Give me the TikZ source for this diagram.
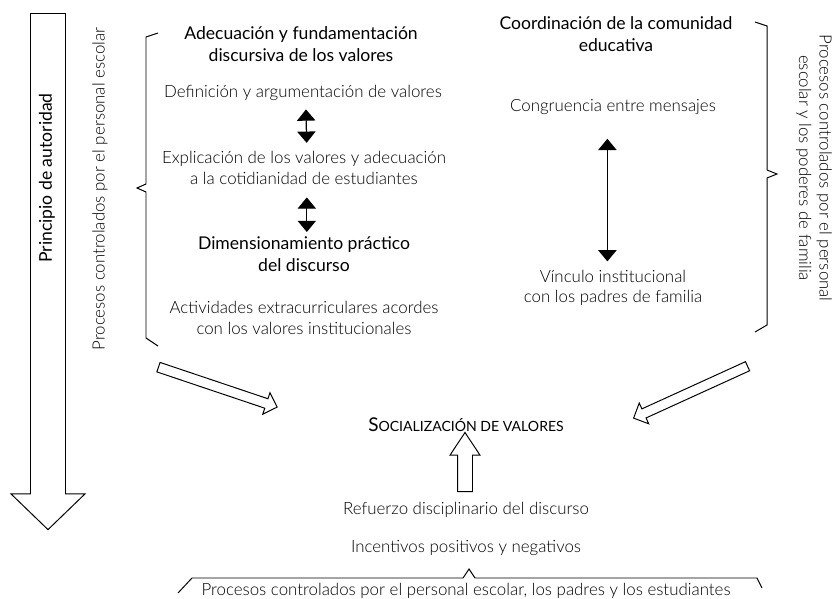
\documentclass[tikz,border=0pt]{standalone}
\usepackage{fontspec}
\setmainfont{Lato Light}[BoldFont=Lato]
\usetikzlibrary{positioning}
\usetikzlibrary{arrows.meta}
\usetikzlibrary{shapes.arrows}

\newcommand{\fakeSmallCaps}[2]{{\fontsize{13.5}{16}\selectfont #1}{\fontsize{10}{12}\selectfont #2}}

\begin{document}
\begin{tikzpicture}[x=0.025cm, y=-0.025cm,
    plainText/.style={font=\fontsize{12}{14.6}\selectfont, align=center, inner sep=1pt},
    headText/.style={font=\fontsize{12.5}{15.6}\selectfont\bfseries, align=center, inner sep=1pt},
    hollowArrow/.style={draw, single arrow, single arrow head indent=0pt, inner xsep=0pt, line width=0.7pt},
    linkArrow/.style={{Triangle[width=13pt,length=8pt]}-{Triangle[width=13pt,length=8pt]}, line width=0.9pt},
    brace/.style={line width=0.7pt},
  ]
    \useasboundingbox (0,0) rectangle (836,599);

    \node[hollowArrow, rotate=-90, anchor=tail, minimum height=12.9cm, inner ysep=0.425cm, single arrow head extend=0.4875cm, single arrow tip angle=92] (principioArrow) at (48,13) {};
    \node[headText, rotate=90] (principio) at (47,178) {Principio de autoridad};
    \node[plainText, rotate=90] (procesosEscolar) at (100,189) {Procesos controlados por el personal escolar};

    \node[headText] (adecuacion) at (301,44) {Adecuación y fundamentación\\discursiva de los valores};
    \node[plainText] (definicion) at (303,93) {Definición y argumentación de valores};
    \node[plainText] (explicacion) at (304,168) {Explicación de los valores y adecuación\\a la cotidianidad de estudiantes};
    \node[headText] (dimension) at (304,254) {Dimensionamiento práctico\\del discurso};
    \node[plainText] (actividades) at (304,318) {Actividades extracurriculares acordes\\con los valores institucionales};

    \node[headText] (coordinacion) at (616,34) {Coordinación de la comunidad\\educativa};
    \node[plainText] (congruencia) at (613,107) {Congruencia entre mensajes};
    \node[plainText] (vinculo) at (613,288) {Vínculo institucional\\con los padres de familia};
    \node[plainText, rotate=-90] (procesosFamilia) at (814,168) {Procesos controlados por el personal\\escolar y los poderes de familia};

    \node[headText] (socializacion) at (466,425) {\fakeSmallCaps{S}{OCIALIZACIÓN DE VALORES}};
    \node[plainText] (refuerzo) at (466,510) {Refuerzo disciplinario del discurso};
    \node[plainText] (incentivos) at (466,548) {Incentivos positivos y negativos};
    \node[plainText] (procesosTodos) at (466,591) {Procesos controlados por el personal escolar, los padres y los estudiantes};

    \node[hollowArrow, rotate=-18.6, anchor=tail, minimum height=3.13cm, inner ysep=0.1125cm, single arrow head extend=0.16cm, single arrow tip angle=90] (leftFlow) at (158,367) {};
    \node[hollowArrow, rotate=204.5, anchor=tail, minimum height=3.13cm, inner ysep=0.1125cm, single arrow head extend=0.16cm, single arrow tip angle=90] (rightFlow) at (748,366) {};
    \node[hollowArrow, rotate=90, anchor=tail, minimum height=1.475cm, inner ysep=0.175cm, single arrow head extend=0.1875cm, single arrow tip angle=67] (upFlow) at (465,492) {};

    \draw[linkArrow, shorten <=5pt, shorten >=5pt] ([xshift=2pt]definicion.south) -- ([xshift=2pt]explicacion.north);
    \draw[linkArrow, shorten <=8pt, shorten >=2pt] ([xshift=2pt]explicacion.south) -- ([xshift=2pt]dimension.north);
    \draw[linkArrow, shorten <=16pt, shorten >=5pt] ([xshift=-4pt]congruencia.south) -- ([xshift=-4pt]vinculo.north);

    \draw[brace] (158,33) -- (146,37) -- (146,184) -- (137,188) -- (146,192) -- (146,338) -- (158,346);
    \draw[brace] (755,22) -- (767,26) -- (767,170) -- (777,174) -- (767,178) -- (767,325) -- (755,332);
    \draw[brace] (178,593) -- (192,578) -- (463,578) -- (469,569) -- (475,578) -- (757,578) -- (762,588);
\end{tikzpicture}
\end{document}
